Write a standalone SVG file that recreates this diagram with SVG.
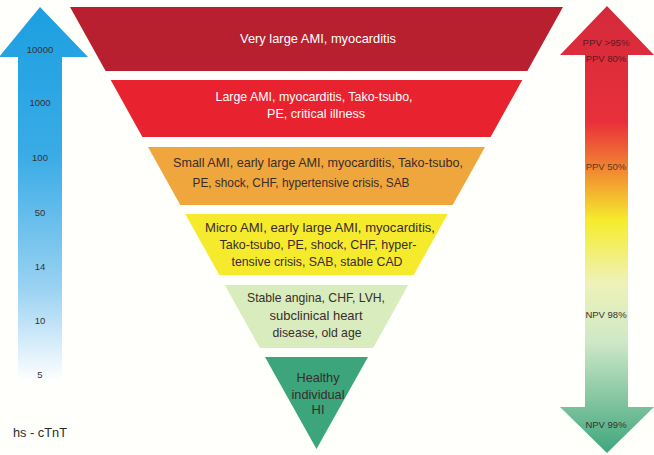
<svg xmlns="http://www.w3.org/2000/svg" width="654" height="455" viewBox="0 0 654 455">
<defs>
<linearGradient id="gBlue" x1="0" y1="0" x2="0" y2="1">
<stop offset="0" stop-color="#1c9fe0"/>
<stop offset="0.4" stop-color="#3aace6"/>
<stop offset="0.75" stop-color="#9ad2f2"/>
<stop offset="1" stop-color="#ffffff"/>
</linearGradient>
<linearGradient id="gRG" x1="0" y1="0" x2="0" y2="1">
<stop offset="0" stop-color="#d42a3c"/>
<stop offset="0.26" stop-color="#e9303a"/>
<stop offset="0.37" stop-color="#f28a32"/>
<stop offset="0.48" stop-color="#f6ec2c"/>
<stop offset="0.62" stop-color="#eef2b8"/>
<stop offset="0.75" stop-color="#cfe8c8"/>
<stop offset="1" stop-color="#3ea67c"/>
</linearGradient>
<style>
.t{font-family:"Liberation Sans",Arial,sans-serif;text-anchor:middle}
.w{fill:#ffffff;font-size:13px}
.d{fill:#3a2c2c;font-size:13px}
.s{fill:#3a3030;font-size:9.5px}
</style>
</defs>
<rect width="654" height="455" fill="#fffffb"/>

<g id="scale-left">
<polygon points="40,7 88,57 62,57 62,382 18,382 18,57 -1,57" fill="url(#gBlue)"/>
<text class="t s" x="40" y="53">10000</text>
<text class="t s" x="40" y="106">1000</text>
<text class="t s" x="40" y="161">100</text>
<text class="t s" x="40" y="216">50</text>
<text class="t s" x="40" y="270">14</text>
<text class="t s" x="40" y="324">10</text>
<text class="t s" x="40" y="378">5</text>
<text class="t" x="40" y="437" textLength="54" lengthAdjust="spacingAndGlyphs" style="font-size:12px;fill:#2a2a2a">hs - cTnT</text>
</g>

<g id="scale-right">
<polygon points="607,6 654,55 628,55 628,407 654,407 607,453 560,407 585,407 585,55 560,55" fill="url(#gRG)"/>
<text class="t s" x="606" y="46" textLength="47" lengthAdjust="spacingAndGlyphs" style="fill:#5a1a20">PPV &gt;95%</text>
<text class="t s" x="606" y="62" style="fill:#5a1a20">PPV 80%</text>
<text class="t s" x="606" y="170" style="fill:#5a3a20">PPV 50%</text>
<text class="t s" x="606" y="318">NPV 98%</text>
<text class="t s" x="606" y="428">NPV 99%</text>
</g>

<g id="level-1">
<polygon points="70,7 563,7 527.4,71 105.6,71" fill="#b8202f"/>
<text class="t w" x="318" y="43" textLength="156" lengthAdjust="spacingAndGlyphs">Very large AMI, myocarditis</text>
</g>

<g id="level-2">
<polygon points="110.7,80 522.3,80 490.6,137 142.4,137" fill="#e8222f"/>
<text class="t w" x="314" y="101" textLength="197" lengthAdjust="spacingAndGlyphs">Large AMI, myocarditis, Tako-tsubo,</text>
<text class="t w" x="316" y="118" textLength="98" lengthAdjust="spacingAndGlyphs">PE, critical illness</text>
</g>

<g id="level-3">
<polygon points="148,147 485,147 452.7,205 180.3,205" fill="#efa63c"/>
<text class="t d" x="318" y="167" textLength="290" lengthAdjust="spacingAndGlyphs">Small AMI, early large AMI, myocarditis, Tako-tsubo,</text>
<text class="t d" x="301" y="187" textLength="217" lengthAdjust="spacingAndGlyphs">PE, shock, CHF, hypertensive crisis, SAB</text>
</g>

<g id="level-4">
<polygon points="185.3,214 447.7,214 413.7,275 219.3,275" fill="#f5ea2c"/>
<text class="t d" x="320" y="232" textLength="230" lengthAdjust="spacingAndGlyphs">Micro AMI, early large AMI, myocarditis,</text>
<text class="t d" x="318" y="249" textLength="197" lengthAdjust="spacingAndGlyphs">Tako-tsubo, PE, shock, CHF, hyper-</text>
<text class="t d" x="317" y="266" textLength="171" lengthAdjust="spacingAndGlyphs">tensive crisis, SAB, stable CAD</text>
</g>

<g id="level-5">
<polygon points="224.8,285 408.2,285 373.1,348 259.9,348" fill="#d9ecbd"/>
<text class="t d" x="316" y="302" textLength="138" lengthAdjust="spacingAndGlyphs">Stable angina, CHF, LVH,</text>
<text class="t d" x="316" y="320" textLength="93" lengthAdjust="spacingAndGlyphs">subclinical heart</text>
<text class="t d" x="317" y="337" textLength="89" lengthAdjust="spacingAndGlyphs">disease, old age</text>
</g>

<g id="level-6">
<polygon points="265,357 368,357 316.5,449" fill="#3ca57b"/>
<text class="t d" x="318" y="382" textLength="43" lengthAdjust="spacingAndGlyphs">Healthy</text>
<text class="t d" x="318" y="399" textLength="53" lengthAdjust="spacingAndGlyphs">individual</text>
<text class="t d" x="318" y="414">HI</text>
</g>

<g id="connectors"/>
</svg>
